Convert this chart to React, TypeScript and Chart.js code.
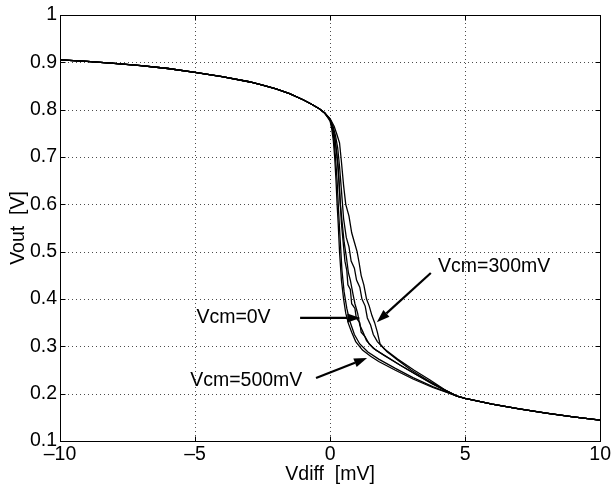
import { useEffect, useRef } from "react";
import { Chart, registerables } from "chart.js";

Chart.register(...registerables);

const FONT = "'Liberation Sans', Arial, Helvetica, sans-serif";
const FS = 19.5;

// Common part of all curves (left of the transition)
const LEFT_VDIFF = [-10, -9, -8, -7, -6, -5, -4, -3, -2.5, -2, -1.5, -1, -0.7, -0.4, -0.2];
const LEFT_VOUT = [0.905, 0.902, 0.898, 0.893, 0.887, 0.879, 0.870, 0.859, 0.852, 0.844, 0.834, 0.821, 0.812, 0.802, 0.793];

// Common part of all curves (right tail)
const RIGHT_VDIFF = [4.7, 5, 6, 7, 8, 9, 10];
const RIGHT_VOUT = [0.195, 0.190, 0.178, 0.168, 0.159, 0.151, 0.144];

// Transition region, one per curve
const A_VDIFF = [0, 0.06, 0.12, 0.17, 0.22, 0.26, 0.3, 0.35, 0.42, 0.5, 0.58, 0.68, 0.8, 0.95, 1.2, 1.5, 1.8, 2.4, 3.07, 3.8, 4.3];
const A_VOUT = [0.776, 0.76, 0.735, 0.70, 0.65, 0.60, 0.56, 0.50, 0.44, 0.40, 0.37, 0.348, 0.33, 0.31, 0.292, 0.279, 0.268, 0.250, 0.231, 0.213, 0.203];

const B_VDIFF = [0, 0.08, 0.15, 0.2, 0.26, 0.32, 0.38, 0.44, 0.52, 0.62, 0.72, 0.9, 1.1, 1.4, 1.8, 2.4, 3.07, 3.8, 4.3];
const B_VOUT = [0.778, 0.762, 0.735, 0.70, 0.65, 0.58, 0.52, 0.46, 0.415, 0.38, 0.355, 0.325, 0.305, 0.288, 0.273, 0.254, 0.234, 0.215, 0.204];

const C_VDIFF = [0, 0.1, 0.18, 0.22, 0.3, 0.36, 0.42, 0.5, 0.55, 0.62, 0.66, 0.75, 0.8, 0.92, 0.97, 1.1, 1.15, 1.3, 1.45, 1.7, 2.1, 2.6, 3.2, 3.8, 4.3];
const C_VOUT = [0.779, 0.763, 0.74, 0.72, 0.68, 0.62, 0.56, 0.51, 0.48, 0.46, 0.43, 0.42, 0.39, 0.38, 0.36, 0.35, 0.33, 0.32, 0.305, 0.292, 0.278, 0.26, 0.24, 0.221, 0.206];

const D_VDIFF = [0, 0.12, 0.2, 0.28, 0.35, 0.42, 0.5, 0.6, 0.7, 0.78, 0.9, 0.98, 1.1, 1.18, 1.3, 1.38, 1.5, 1.6, 1.75, 2.0, 2.5, 3.1, 3.7, 4.25];
const D_VOUT = [0.780, 0.763, 0.745, 0.72, 0.68, 0.63, 0.57, 0.53, 0.51, 0.48, 0.465, 0.44, 0.425, 0.40, 0.385, 0.36, 0.345, 0.325, 0.31, 0.295, 0.273, 0.25, 0.229, 0.208];

const E_VDIFF = [0, 0.15, 0.25, 0.35, 0.42, 0.5, 0.58, 0.7, 0.8, 0.9, 1.0, 1.08, 1.15, 1.25, 1.35, 1.45, 1.55, 1.65, 1.75, 1.85, 2.1, 2.5, 3.0, 3.6, 4.2];
const E_VOUT = [0.781, 0.765, 0.748, 0.73, 0.69, 0.64, 0.60, 0.575, 0.54, 0.52, 0.50, 0.475, 0.45, 0.43, 0.40, 0.385, 0.365, 0.35, 0.33, 0.305, 0.289, 0.271, 0.250, 0.229, 0.209];

const F_VDIFF = [0, 0.1, 0.2, 0.26, 0.32, 0.38, 0.45, 0.52, 0.6, 0.68, 0.75, 0.85, 0.92, 1.02, 1.1, 1.22, 1.35, 1.6, 2.0, 2.6, 3.2, 3.8, 4.3];
const F_VOUT = [0.779, 0.76, 0.73, 0.70, 0.655, 0.60, 0.56, 0.52, 0.49, 0.455, 0.44, 0.41, 0.39, 0.37, 0.345, 0.33, 0.312, 0.296, 0.281, 0.26, 0.24, 0.22, 0.206];

const MID_VDIFF = [A_VDIFF, B_VDIFF, C_VDIFF, D_VDIFF, E_VDIFF, F_VDIFF];
const MID_VOUT = [A_VOUT, B_VOUT, C_VOUT, D_VOUT, E_VOUT, F_VOUT];

// Axis ranges / ticks
const X_MIN = -10;
const X_MAX = 10;
const X_STEP = 5;
const Y_MIN = 0.1;
const Y_MAX = 1;
const Y_STEP = 0.1;
const X_TITLE = "Vdiff  [mV]";
const Y_TITLE = "Vout  [V]";

// Annotations (in data coordinates)
const ANNOT_TEXT = ["Vcm=300mV", "Vcm=0V", "Vcm=500mV"];
const ANNOT_TEXT_X = [4.0, -4.95, -5.18];
const ANNOT_TEXT_Y = [0.468, 0.36, 0.227];
const ARROW_FROM_X = [3.73, -1.11, -0.52];
const ARROW_FROM_Y = [0.455, 0.36, 0.233];
const ARROW_TO_X = [1.73, 1.12, 1.37];
const ARROW_TO_Y = [0.351, 0.36, 0.2754];

const framePlugin = {
  id: "matlabFrame",
  beforeDatasetsDraw(chart: any) {
    const { ctx, chartArea } = chart;
    const xs = chart.scales.x;
    const ys = chart.scales.y;
    const L = Math.round(chartArea.left);
    const R = Math.round(chartArea.right);
    const T = Math.round(chartArea.top);
    const B = Math.round(chartArea.bottom);
    ctx.save();
    ctx.strokeStyle = "rgba(0,0,0,0.7)";
    ctx.lineWidth = 1;
    ctx.setLineDash([1, 3]);
    xs.ticks.forEach((t: any) => {
      const px = Math.round(xs.getPixelForValue(t.value)) + 0.5;
      if (Math.abs(px - L) < 2 || Math.abs(px - R) < 2) return;
      ctx.beginPath();
      ctx.moveTo(px, T);
      ctx.lineTo(px, B);
      ctx.stroke();
    });
    ys.ticks.forEach((t: any) => {
      const py = Math.round(ys.getPixelForValue(t.value)) + 0.5;
      if (Math.abs(py - T) < 2 || Math.abs(py - B) < 2) return;
      ctx.beginPath();
      ctx.moveTo(L, py);
      ctx.lineTo(R, py);
      ctx.stroke();
    });
    ctx.restore();
  },
  afterDatasetsDraw(chart: any) {
    const { ctx, chartArea } = chart;
    const xs = chart.scales.x;
    const ys = chart.scales.y;
    const L = Math.round(chartArea.left) + 0.5;
    const R = Math.round(chartArea.right) + 0.5;
    const T = Math.round(chartArea.top) + 0.5;
    const B = Math.round(chartArea.bottom) + 0.5;
    ctx.save();
    ctx.strokeStyle = "#000";
    ctx.lineWidth = 1;
    ctx.setLineDash([]);
    ctx.strokeRect(L, T, R - L, B - T);
    const tl = 5;
    xs.ticks.forEach((t: any) => {
      const px = Math.round(xs.getPixelForValue(t.value)) + 0.5;
      ctx.beginPath();
      ctx.moveTo(px, B);
      ctx.lineTo(px, B - tl);
      ctx.moveTo(px, T);
      ctx.lineTo(px, T + tl);
      ctx.stroke();
    });
    ys.ticks.forEach((t: any) => {
      const py = Math.round(ys.getPixelForValue(t.value)) + 0.5;
      ctx.beginPath();
      ctx.moveTo(L, py);
      ctx.lineTo(L + tl, py);
      ctx.moveTo(R, py);
      ctx.lineTo(R - tl, py);
      ctx.stroke();
    });

    // annotations
    ctx.fillStyle = "#000";
    ctx.font = `${FS}px ${FONT}`;
    ctx.textAlign = "left";
    ctx.textBaseline = "middle";
    ANNOT_TEXT.forEach((txt, i) => {
      ctx.fillText(txt, xs.getPixelForValue(ANNOT_TEXT_X[i]), ys.getPixelForValue(ANNOT_TEXT_Y[i]));
      const x1 = xs.getPixelForValue(ARROW_FROM_X[i]);
      const y1 = ys.getPixelForValue(ARROW_FROM_Y[i]);
      const x2 = xs.getPixelForValue(ARROW_TO_X[i]);
      const y2 = ys.getPixelForValue(ARROW_TO_Y[i]);
      const ang = Math.atan2(y2 - y1, x2 - x1);
      const hl = 13;
      const hw = 4.5;
      const bx = x2 - hl * Math.cos(ang);
      const by = y2 - hl * Math.sin(ang);
      ctx.lineWidth = 2.2;
      ctx.beginPath();
      ctx.moveTo(x1, y1);
      ctx.lineTo(bx, by);
      ctx.stroke();
      ctx.beginPath();
      ctx.moveTo(x2, y2);
      ctx.lineTo(bx + hw * Math.sin(ang), by - hw * Math.cos(ang));
      ctx.lineTo(bx - hw * Math.sin(ang), by + hw * Math.cos(ang));
      ctx.closePath();
      ctx.fill();
    });
    ctx.restore();
  },
};

export default function App() {
  const ref = useRef<HTMLCanvasElement | null>(null);
  useEffect(() => {
    if (!ref.current) return;
    const datasets = MID_VDIFF.map((mx, i) => {
      const xsArr = [...LEFT_VDIFF, ...mx, ...RIGHT_VDIFF];
      const ysArr = [...LEFT_VOUT, ...MID_VOUT[i], ...RIGHT_VOUT];
      return {
        data: xsArr.map((x, k) => ({ x, y: ysArr[k] })),
        showLine: true,
        borderColor: "#000",
        backgroundColor: "#000",
        borderWidth: 1.3,
        pointRadius: 0,
        tension: 0,
        fill: false,
      };
    });
    const chart = new Chart(ref.current, {
      type: "scatter",
      data: { datasets },
      options: {
        responsive: false,
        animation: false,
        devicePixelRatio: 1,
        layout: { padding: { left: 0, right: 11, top: 15, bottom: 0 } },
        plugins: { legend: { display: false }, tooltip: { enabled: false } },
        scales: {
          x: {
            type: "linear",
            min: X_MIN,
            max: X_MAX,
            ticks: {
              stepSize: X_STEP,
              padding: 2,
              color: "#000",
              font: { family: FONT, size: FS },
              maxRotation: 0,
              autoSkip: false,
              callback: (v: any) => (Number(v) < 0 ? "\u2013" + Math.abs(Number(v)) : String(v)),
            },
            grid: { display: false, drawTicks: false },
            border: { display: false },
            title: {
              display: true,
              text: X_TITLE,
              color: "#000",
              font: { family: FONT, size: FS },
              padding: { top: 0, bottom: 2 },
            },
            afterFit: (s: any) => {
              s.height = 47;
            },
          },
          y: {
            type: "linear",
            min: Y_MIN,
            max: Y_MAX,
            ticks: {
              stepSize: Y_STEP,
              padding: 3,
              color: "#000",
              font: { family: FONT, size: FS },
              autoSkip: false,
              callback: (v: any) => String(Math.round(Number(v) * 10) / 10),
            },
            grid: { display: false, drawTicks: false },
            border: { display: false },
            title: {
              display: true,
              text: Y_TITLE,
              color: "#000",
              font: { family: FONT, size: FS },
              padding: { top: 7, bottom: 0 },
            },
            afterFit: (s: any) => {
              s.width = 60;
            },
          },
        },
      },
      plugins: [framePlugin],
    } as any);
    return () => chart.destroy();
  }, []);
  return (
    <div style={{ position: "fixed", left: 0, top: 0, width: 613, height: 488, background: "#fff" }}>
      <canvas ref={ref} width={613} height={488} style={{ width: 613, height: 488 }} />
    </div>
  );
}
